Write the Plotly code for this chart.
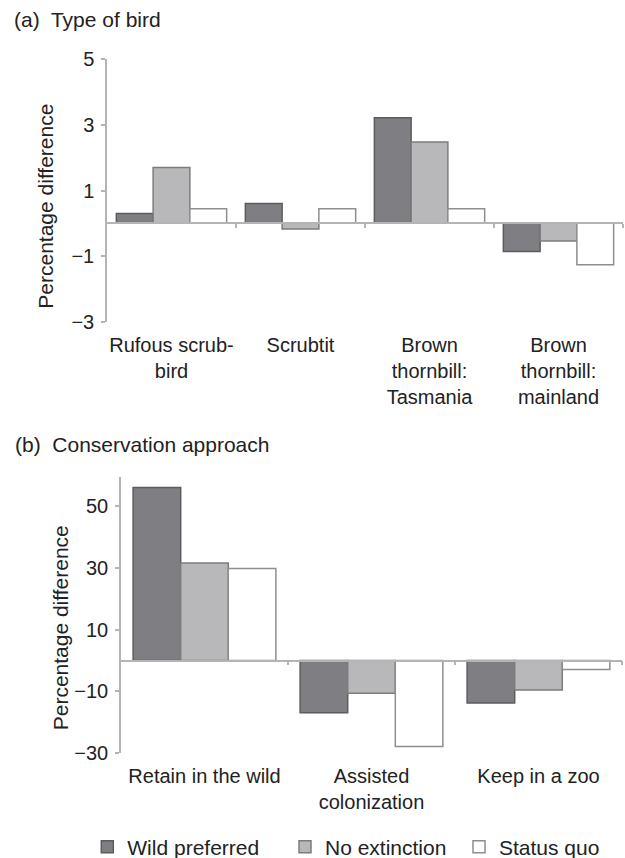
import plotly.graph_objects as go

# ---- data ----
birds = ["Rufous scrub-<br>bird", "Scrubtit", "Brown<br>thornbill:<br>Tasmania", "Brown<br>thornbill:<br>mainland"]
birds_wild = [0.30, 0.60, 3.22, -0.86]
birds_noext = [1.70, -0.17, 2.48, -0.54]
birds_status = [0.44, 0.44, 0.44, -1.26]

approaches = ["Retain in the wild", "Assisted<br>colonization", "Keep in a zoo"]
appr_wild = [56.0, -16.9, -13.7]
appr_noext = [31.6, -10.6, -9.5]
appr_status = [29.8, -27.8, -2.9]

series_names = ["Wild preferred", "No extinction", "Status quo"]
ticks_a = [-3, -1, 1, 3, 5]
ticks_b = [-30, -10, 10, 30, 50]
range_a = [-3, 5]
range_b = [-30, 59.3]

# ---- style ----
fills = ["#7f7f83", "#b8b8ba", "#ffffff"]
outlines = ["#5c5c5f", "#7c7c7e", "#8e8e8e"]
axis_col = "#b4b4b4"
txt_col = "#222222"
FONT = "Liberation Sans, Arial, sans-serif"

W, H = 625, 858
MB = 90                 # bottom margin, large enough for the legend
PH = H - MB             # plot-area height in px

# plot areas in pixels (left, right, top, bottom), measured from the top-left
pa = (107, 623, 59.3, 321.7)
pb = (121, 622, 477.3, 753.3)


def xp(px):
    return px / W


def yp(py):
    return (PH - py) / PH


def xd(p):
    return [xp(p[0]), xp(p[1])]


def yd(p):
    return [yp(p[3]), yp(p[2])]


fig = go.Figure()

legend_ids = ["legend", "legend2", "legend3"]
data_a = [birds_wild, birds_noext, birds_status]
data_b = [appr_wild, appr_noext, appr_status]
for i, name in enumerate(series_names):
    fig.add_trace(go.Bar(
        x=birds, y=data_a[i], name=name, xaxis="x", yaxis="y",
        marker=dict(color=fills[i], line=dict(color=outlines[i], width=1.5)),
        legendgroup=name, showlegend=True, legend=legend_ids[i],
    ))
for i, name in enumerate(series_names):
    fig.add_trace(go.Bar(
        x=approaches, y=data_b[i], name=name, xaxis="x2", yaxis="y2",
        marker=dict(color=fills[i], line=dict(color=outlines[i], width=1.5)),
        legendgroup=name, showlegend=False, legend=legend_ids[i],
    ))

# invisible traces for the zero-line axes that carry the category boundary ticks
fig.add_trace(go.Scatter(x=[], y=[], xaxis="x3", yaxis="y", showlegend=False, hoverinfo="skip"))
fig.add_trace(go.Scatter(x=[], y=[], xaxis="x4", yaxis="y2", showlegend=False, hoverinfo="skip"))


def zero_pos(p, rng):
    y0, y1 = yd(p)
    return y0 + (0 - rng[0]) / (rng[1] - rng[0]) * (y1 - y0)


cat_axis = dict(showline=False, ticks="", showgrid=False, zeroline=False, automargin=False,
                tickfont=dict(size=20, color=txt_col, family=FONT),
                ticklabelstandoff=9, fixedrange=True)
val_axis = dict(showline=True, linecolor=axis_col, linewidth=1.5, ticks="outside",
                ticklen=4, tickcolor=axis_col, tickwidth=1.5, showgrid=False, zeroline=False,
                automargin=False,
                tickfont=dict(size=20, color=txt_col, family=FONT), ticklabelstandoff=3)
zero_axis = dict(showline=True, linecolor=axis_col, linewidth=1.5, ticks="outside",
                 ticklen=4, tickcolor=axis_col, tickwidth=1.5, showticklabels=False,
                 showgrid=False, zeroline=False, anchor="free", automargin=False)

legend_y_px = 847
leg_common = dict(orientation="h", y=yp(legend_y_px), yanchor="middle",
                  font=dict(size=21, color=txt_col, family=FONT), itemwidth=30,
                  bgcolor="rgba(0,0,0,0)", borderwidth=0)
legends = {
    "legend": dict(x=xp(107.3 - 20), xanchor="left", **leg_common),
    "legend2": dict(x=xp(305.0 - 20), xanchor="left", **leg_common),
    "legend3": dict(x=xp(605), xanchor="right", **leg_common),
}

fig.update_layout(
    template="none",
    width=W, height=H,
    margin=dict(l=0, r=0, t=0, b=MB, pad=0, autoexpand=False),
    paper_bgcolor="white", plot_bgcolor="white",
    font=dict(family=FONT, color=txt_col),
    barmode="group", bargap=0.145, bargroupgap=0,
    xaxis=dict(domain=xd(pa), anchor="y", **cat_axis),
    yaxis=dict(domain=yd(pa), anchor="x", range=range_a, tickvals=ticks_a, **val_axis),
    xaxis2=dict(domain=xd(pb), anchor="y2", **cat_axis),
    yaxis2=dict(domain=yd(pb), anchor="x2", range=range_b, tickvals=ticks_b, **val_axis),
    xaxis3=dict(domain=xd(pa), overlaying="x", position=zero_pos(pa, range_a),
                range=[-0.5, len(birds) - 0.5],
                tickvals=[k + 0.5 for k in range(len(birds))], **zero_axis),
    xaxis4=dict(domain=xd(pb), overlaying="x2", position=zero_pos(pb, range_b),
                range=[-0.5, len(approaches) - 0.5],
                tickvals=[k + 0.5 for k in range(len(approaches))], **zero_axis),
    showlegend=True,
    **legends,
)

annots = [
    dict(text="(a)\u00a0 Type of bird", x=xp(12), y=yp(19.5), xanchor="left", yanchor="middle",
         font=dict(size=21)),
    dict(text="(b)\u00a0 Conservation approach", x=xp(13), y=yp(444), xanchor="left",
         yanchor="middle", font=dict(size=21)),
    dict(text="Percentage difference", x=xp(46), y=yp(206.7), xanchor="center",
         yanchor="middle", textangle=-90, font=dict(size=21)),
    dict(text="Percentage difference", x=xp(60), y=yp(628.3), xanchor="center",
         yanchor="middle", textangle=-90, font=dict(size=21)),
]
for a in annots:
    a.update(xref="paper", yref="paper", showarrow=False)
    a["font"].update(color=txt_col, family=FONT)
fig.update_layout(annotations=annots)

fig.write_html("out.html", config={"displayModeBar": False},
               post_script="document.body.style.margin='0px';")
